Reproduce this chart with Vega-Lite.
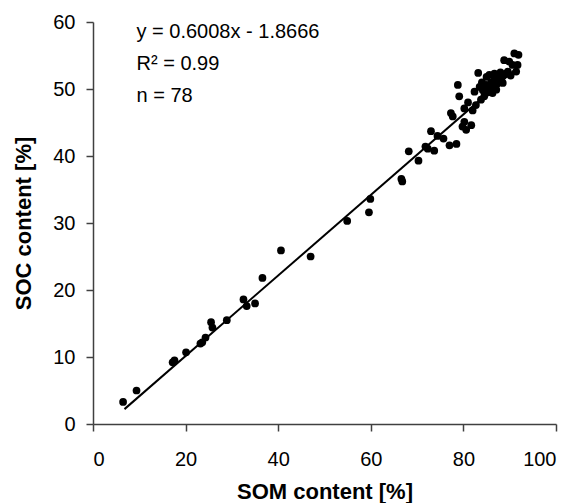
{
  "$schema": "https://vega.github.io/schema/vega-lite/v6.json",
  "width": 463,
  "height": 402,
  "autosize": {"type": "none"},
  "padding": {"left": 93, "top": 22, "right": 22, "bottom": 79},
  "background": "white",
  "config": {
    "view": {"stroke": null},
    "font": "Liberation Sans",
    "axis": {
      "grid": false,
      "domainColor": "#404040",
      "domainWidth": 1.5,
      "tickColor": "#404040",
      "tickWidth": 1.5,
      "tickSize": 7,
      "labelFont": "Liberation Sans",
      "labelFontSize": 20,
      "labelColor": "black",
      "titleFont": "Liberation Sans",
      "titleFontSize": 22,
      "titleFontWeight": "bold",
      "titleColor": "black"
    }
  },
  "datasets": {
    "pts": [
      {"som": 6.5, "soc": 3.3}, {"som": 9.4, "soc": 5.0}, {"som": 17.2, "soc": 9.2}, {"som": 17.6, "soc": 9.5},
      {"som": 20.1, "soc": 10.7}, {"som": 23.2, "soc": 12.0}, {"som": 23.6, "soc": 12.2}, {"som": 24.3, "soc": 12.9},
      {"som": 25.5, "soc": 15.2}, {"som": 25.8, "soc": 14.4}, {"som": 28.9, "soc": 15.5}, {"som": 32.5, "soc": 18.6},
      {"som": 33.2, "soc": 17.6}, {"som": 35.0, "soc": 18.0}, {"som": 36.6, "soc": 21.8}, {"som": 40.6, "soc": 25.9},
      {"som": 47.0, "soc": 25.0}, {"som": 54.9, "soc": 30.3}, {"som": 59.6, "soc": 31.6}, {"som": 59.9, "soc": 33.6},
      {"som": 66.6, "soc": 36.6}, {"som": 66.8, "soc": 36.2}, {"som": 68.2, "soc": 40.7}, {"som": 70.3, "soc": 39.3},
      {"som": 71.8, "soc": 41.4}, {"som": 72.3, "soc": 41.1}, {"som": 73.0, "soc": 43.7}, {"som": 73.7, "soc": 40.8},
      {"som": 74.4, "soc": 43.0}, {"som": 75.7, "soc": 42.6}, {"som": 77.0, "soc": 41.6}, {"som": 78.5, "soc": 41.8},
      {"som": 77.3, "soc": 46.4}, {"som": 77.7, "soc": 45.9}, {"som": 78.8, "soc": 50.6}, {"som": 79.1, "soc": 48.9},
      {"som": 79.8, "soc": 44.4}, {"som": 80.2, "soc": 45.1}, {"som": 80.6, "soc": 43.9}, {"som": 81.7, "soc": 44.6},
      {"som": 80.2, "soc": 47.1}, {"som": 82.4, "soc": 49.6}, {"som": 82.7, "soc": 47.6}, {"som": 83.2, "soc": 52.4},
      {"som": 83.8, "soc": 48.4}, {"som": 84.5, "soc": 48.9}, {"som": 84.9, "soc": 50.6}, {"som": 85.6, "soc": 52.1},
      {"som": 86.7, "soc": 52.3}, {"som": 87.1, "soc": 49.9}, {"som": 87.8, "soc": 51.3}, {"som": 86.3, "soc": 49.4},
      {"som": 85.6, "soc": 50.3}, {"som": 89.2, "soc": 52.3}, {"som": 88.5, "soc": 50.9}, {"som": 91.4, "soc": 52.6},
      {"som": 89.9, "soc": 54.1}, {"som": 88.8, "soc": 54.3}, {"som": 91.0, "soc": 55.3}, {"som": 91.9, "soc": 55.1},
      {"som": 90.6, "soc": 53.6}, {"som": 89.6, "soc": 52.6}, {"som": 91.7, "soc": 53.6}, {"som": 84.0, "soc": 51.0},
      {"som": 85.0, "soc": 51.8}, {"som": 86.0, "soc": 51.0}, {"som": 86.5, "soc": 50.5}, {"som": 87.5, "soc": 52.0},
      {"som": 88.0, "soc": 52.5}, {"som": 85.3, "soc": 49.5}, {"som": 84.2, "soc": 49.8}, {"som": 83.5, "soc": 50.3},
      {"som": 86.8, "soc": 51.6}, {"som": 88.3, "soc": 51.8}, {"som": 87.3, "soc": 50.8}, {"som": 81.0, "soc": 48.0},
      {"som": 82.0, "soc": 46.8}, {"som": 90.2, "soc": 52.0}
    ],
    "fit": [{"som": 6.8, "soc": 2.22}, {"som": 92.3, "soc": 53.59}],
    "notes": [
      {"som": 9.4, "soc": 58.5, "label": "y = 0.6008x - 1.8666"},
      {"som": 9.4, "soc": 53.7, "label": "R² = 0.99"},
      {"som": 9.4, "soc": 48.9, "label": "n = 78"}
    ]
  },
  "layer": [
    {
      "data": {"name": "fit"},
      "mark": {"type": "line", "color": "black", "strokeWidth": 2},
      "encoding": {
        "x": {"field": "som", "type": "quantitative", "scale": {"domain": [0, 100], "nice": false},
              "axis": {"values": [0, 20, 40, 60, 80, 100], "title": "SOM content [%]", "labelPadding": 18, "titlePadding": 12}},
        "y": {"field": "soc", "type": "quantitative", "scale": {"domain": [0, 60], "nice": false},
              "axis": {"values": [0, 10, 20, 30, 40, 50, 60], "title": "SOC content [%]", "labelPadding": 11, "titlePadding": 17}}
      }
    },
    {
      "data": {"name": "pts"},
      "mark": {"type": "circle", "color": "black", "opacity": 1, "size": 60},
      "encoding": {
        "x": {"field": "som", "type": "quantitative"},
        "y": {"field": "soc", "type": "quantitative"}
      }
    },
    {
      "data": {"name": "notes"},
      "mark": {"type": "text", "align": "left", "baseline": "middle", "fontSize": 20, "font": "Liberation Sans", "color": "black"},
      "encoding": {
        "x": {"field": "som", "type": "quantitative"},
        "y": {"field": "soc", "type": "quantitative"},
        "text": {"field": "label"}
      }
    }
  ]
}
